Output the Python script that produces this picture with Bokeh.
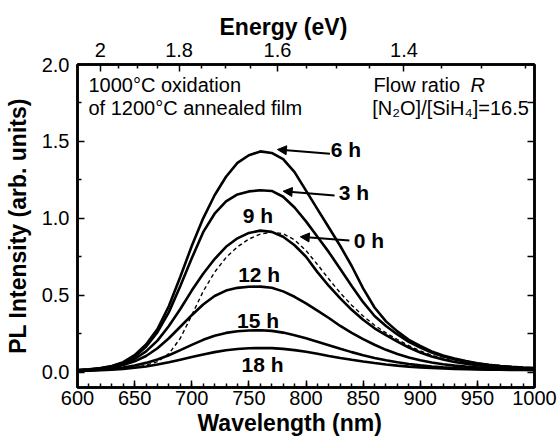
import math
from bokeh.plotting import figure
from bokeh.models import (LinearAxis, FixedTicker, CustomJSTickFormatter, Label,
                          Arrow, NormalHead, Range1d, NumeralTickFormatter, Title)
from bokeh.embed import file_html
from bokeh.resources import INLINE

# ---------------- data ----------------
WAVELENGTH = list(range(600, 1001, 10))

PL_6H = [0.013, 0.018, 0.026, 0.040, 0.065, 0.110, 0.180, 0.280, 0.430, 0.620,
         0.820, 1.000, 1.150, 1.270, 1.360, 1.410, 1.435, 1.425, 1.385, 1.300,
         1.180, 1.060, 0.940, 0.820, 0.690, 0.545, 0.420, 0.330, 0.265, 0.210,
         0.170, 0.135, 0.108, 0.088, 0.072, 0.058, 0.048, 0.040, 0.034, 0.029, 0.026]
PL_3H = [0.012, 0.017, 0.024, 0.037, 0.060, 0.100, 0.165, 0.260, 0.390, 0.560,
         0.740, 0.910, 1.030, 1.110, 1.155, 1.175, 1.182, 1.178, 1.140, 1.070,
         0.980, 0.880, 0.780, 0.670, 0.560, 0.455, 0.365, 0.300, 0.245, 0.197,
         0.160, 0.128, 0.102, 0.083, 0.068, 0.056, 0.046, 0.039, 0.033, 0.028, 0.025]
PL_9H = [0.012, 0.016, 0.022, 0.033, 0.052, 0.085, 0.135, 0.205, 0.300, 0.410,
         0.530, 0.640, 0.735, 0.815, 0.870, 0.905, 0.920, 0.912, 0.880, 0.825,
         0.750, 0.650, 0.560, 0.480, 0.405, 0.340, 0.285, 0.240, 0.198, 0.160,
         0.128, 0.102, 0.082, 0.066, 0.054, 0.045, 0.038, 0.033, 0.029, 0.026, 0.024]
PL_0H = [0.010, 0.012, 0.015, 0.019, 0.024, 0.030, 0.045, 0.068, 0.120, 0.220,
         0.370, 0.525, 0.650, 0.745, 0.815, 0.865, 0.897, 0.910, 0.900, 0.860,
         0.790, 0.700, 0.605, 0.515, 0.435, 0.365, 0.305, 0.255, 0.212, 0.172,
         0.138, 0.110, 0.088, 0.070, 0.057, 0.047, 0.040, 0.034, 0.030, 0.027, 0.024]
PL_12H = [0.010, 0.014, 0.020, 0.030, 0.046, 0.070, 0.105, 0.155, 0.220, 0.295,
          0.370, 0.440, 0.495, 0.530, 0.548, 0.555, 0.556, 0.548, 0.525, 0.490,
          0.447, 0.400, 0.352, 0.300, 0.255, 0.215, 0.178, 0.145, 0.118, 0.095,
          0.077, 0.062, 0.051, 0.042, 0.036, 0.031, 0.027, 0.024, 0.022, 0.020, 0.019]
PL_15H = [0.008, 0.011, 0.015, 0.021, 0.030, 0.043, 0.060, 0.082, 0.110, 0.143,
          0.177, 0.210, 0.237, 0.255, 0.266, 0.271, 0.272, 0.268, 0.257, 0.240,
          0.220, 0.198, 0.175, 0.152, 0.130, 0.110, 0.092, 0.077, 0.064, 0.053,
          0.044, 0.037, 0.031, 0.027, 0.024, 0.021, 0.019, 0.018, 0.017, 0.016, 0.015]
PL_18H = [0.008, 0.010, 0.012, 0.016, 0.021, 0.028, 0.037, 0.049, 0.064, 0.081,
          0.098, 0.115, 0.130, 0.142, 0.150, 0.155, 0.157, 0.156, 0.151, 0.143,
          0.132, 0.119, 0.105, 0.092, 0.080, 0.069, 0.059, 0.050, 0.042, 0.036,
          0.031, 0.027, 0.024, 0.021, 0.019, 0.017, 0.016, 0.015, 0.014, 0.014, 0.013]

X_MAJOR = [600, 650, 700, 750, 800, 850, 900, 950, 1000]
Y_MAJOR = [0.0, 0.5, 1.0, 1.5, 2.0]
Y_MINOR = [0.25, 0.75, 1.25, 1.75]
ENERGY_MAJOR = [2.0, 1.8, 1.6, 1.4]
ENERGY_MINOR = [1.95, 1.9, 1.85, 1.75, 1.7, 1.65, 1.55, 1.5, 1.45, 1.35, 1.3, 1.25]

# curve labels: (text, x, y)
CURVE_LABELS = [("6 h", 835, 1.45), ("3 h", 842, 1.17), ("0 h", 855, 0.855),
                ("9 h", 758, 1.02), ("12 h", 759, 0.635), ("15 h", 758, 0.336),
                ("18 h", 762, 0.05)]
# arrows: (x_start, y_start, x_end, y_end)
ARROWS = [(821, 1.42, 775, 1.447), (825, 1.148, 780, 1.176), (838, 0.856, 795, 0.88)]

FONT = "Liberation Sans"

p = figure(width=559, height=437, x_range=Range1d(600, 1000), y_range=Range1d(-0.1, 2.0),
           output_backend="svg", toolbar_location=None,
           min_border_left=77, min_border_right=25, min_border_top=64, min_border_bottom=50)
p.grid.visible = False
p.background_fill_color = "white"
p.border_fill_color = "white"
p.outline_line_color = "black"
p.outline_line_width = 2.5


def style_axis(ax):
    ax.axis_line_width = 2.5
    ax.axis_line_color = "black"
    ax.major_tick_in = 7
    ax.major_tick_out = 0
    ax.minor_tick_in = 4
    ax.minor_tick_out = 0
    ax.major_tick_line_width = 1.5
    ax.minor_tick_line_width = 1.5
    ax.major_tick_line_color = "black"
    ax.minor_tick_line_color = "black"
    ax.major_label_text_font = FONT
    ax.major_label_text_color = "black"
    ax.major_label_text_font_size = "20px"


xb = p.xaxis[0]
xb.ticker = FixedTicker(ticks=X_MAJOR, minor_ticks=list(range(600, 1001, 10)))
style_axis(xb)
xb.major_label_standoff = 3

yl = p.yaxis[0]
yl.ticker = FixedTicker(ticks=Y_MAJOR, minor_ticks=Y_MINOR)
yl.formatter = NumeralTickFormatter(format="0.0")
style_axis(yl)
yl.major_label_standoff = 8
yl.axis_label = "PL Intensity (arb. units)"
yl.axis_label_text_font = FONT
yl.axis_label_text_font_size = "23px"
yl.axis_label_text_font_style = "bold"
yl.axis_label_text_color = "black"
yl.axis_label_standoff = 8

top = LinearAxis(ticker=FixedTicker(ticks=[1240.0 / e for e in ENERGY_MAJOR],
                                    minor_ticks=[1240.0 / e for e in ENERGY_MINOR]),
                 formatter=CustomJSTickFormatter(code="""
                     const e = 1240/tick;
                     return Math.abs(e-2) < 1e-6 ? "2" : e.toFixed(1);"""))
style_axis(top)
top.major_label_standoff = 8
p.add_layout(top, "above")

right = LinearAxis(ticker=FixedTicker(ticks=Y_MAJOR, minor_ticks=Y_MINOR),
                   formatter=CustomJSTickFormatter(code="return '';"))
style_axis(right)
right.minor_tick_in = 7
right.major_label_standoff = 0
p.add_layout(right, "right")

# axis titles placed as titles so they can be offset like the original
p.add_layout(Title(text="Energy (eV)", align="left", offset=142, standoff=0,
                   text_font=FONT, text_font_size="23px", text_font_style="bold",
                   text_color="black"), "above")
p.add_layout(Title(text="Wavelength (nm)", align="left", offset=120, standoff=0,
                   text_font=FONT, text_font_size="23px", text_font_style="bold",
                   text_color="black"), "below")

# curves
p.line(WAVELENGTH, PL_0H, line_color="black", line_width=1.4, line_dash="4 3")
for ys in (PL_6H, PL_3H, PL_9H, PL_12H, PL_15H, PL_18H):
    p.line(WAVELENGTH, ys, line_color="black", line_width=2.6)

for txt, x, y in CURVE_LABELS:
    p.add_layout(Label(x=x, y=y, text=txt, text_font=FONT, text_font_size="21px",
                       text_font_style="bold", text_align="center", text_baseline="middle",
                       text_color="black"))

for xs, ys, xe, ye in ARROWS:
    p.add_layout(Arrow(end=NormalHead(size=9, fill_color="black", line_color="black", line_width=1),
                       x_start=xs, y_start=ys, x_end=xe, y_end=ye,
                       line_color="black", line_width=2))


def note(text, x, y, style="normal", xo=0):
    p.add_layout(Label(x=x, y=y, x_offset=xo, text=text, text_font=FONT, text_font_size="20px",
                       text_font_style=style, text_align="left", text_baseline="middle",
                       text_color="black"))


note("1000°C oxidation", 609.6, 1.864)
note("of 1200°C annealed film", 609.6, 1.72)
note("Flow ratio", 859, 1.864)
note("R", 859, 1.864, style="italic", xo=97)
note("[N₂O]/[SiH₄]=16.5", 858, 1.72)

open("out.html", "w").write(file_html(p, INLINE))
